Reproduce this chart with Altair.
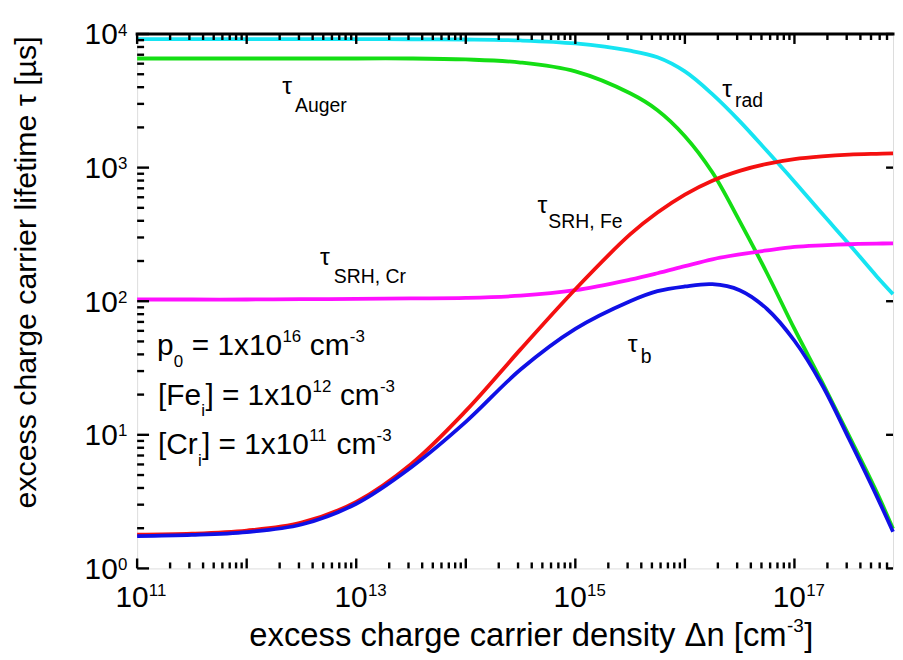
import altair as alt
import pandas as pd

# ---------------- data ----------------
dn = [1e11, 3.16e11, 1e12, 3.16e12, 1e13, 3.16e13, 1e14, 3.16e14, 1e15,
      3.16e15, 5.62e15, 1e16, 1.78e16, 3.16e16, 5.62e16, 1e17, 1.78e17,
      3.16e17, 5.62e17, 7.94e17]
tau_rad = [9150, 9150, 9150, 9150, 9150, 9140, 9100, 8950, 8500, 7500,
           6700, 5250, 3550, 2230, 1330, 785, 455, 267, 154, 113]
tau_auger = [6560, 6560, 6560, 6560, 6560, 6560, 6450, 6120, 5250, 3600,
             2690, 1720, 923, 398, 162, 62, 25.0, 9.77, 3.74, 1.98]
tau_srh_fe = [1.79, 1.82, 1.92, 2.20, 3.15, 6.03, 15.1, 43.6, 123, 316,
              461, 628, 798, 946, 1067, 1157, 1213, 1250, 1268, 1276]
tau_srh_cr = [103, 103, 103, 103.5, 104, 105, 106, 110, 121, 145,
              162, 183, 206, 224, 240, 255, 262, 267, 270, 271]
tau_b = [1.745, 1.78, 1.87, 2.13, 3.05, 5.70, 12.5, 30.8, 62.1, 100,
         119, 129, 134, 121, 87.5, 50.6, 23.8, 9.27, 3.49, 1.88]

X_MIN, X_MAX = 1e11, 7.94e17
Y_MIN, Y_MAX = 1, 1e4
x_major = [1e11, 1e12, 1e13, 1e14, 1e15, 1e16, 1e17]
x_minor = [k * 10.0 ** n for n in range(11, 18) for k in range(2, 10) if k * 10.0 ** n < X_MAX]
y_major = [1, 10, 100, 1000, 10000]
y_minor = [k * 10.0 ** n for n in range(0, 4) for k in range(2, 10)]
x_label_vals = [1e11, 1e13, 1e15, 1e17]
x_label_exp = ["11", "13", "15", "17"]
y_label_vals = [1, 10, 100, 1000, 10000]
y_label_exp = ["0", "1", "2", "3", "4"]

# ---------------- layout ----------------
FONT = "Liberation Sans"
W, H = 761, 538
PAD_L, PAD_T, PAD_R, PAD_B = 130, 24, 2, 90
OX, OY = 8 + PAD_L, 8 + PAD_T   # page position of plot origin

xs = alt.Scale(type="log", domain=[X_MIN, X_MAX], nice=False)
ys = alt.Scale(type="log", domain=[Y_MIN, Y_MAX], nice=False)
ax_x = alt.Axis(domain=True, domainColor="black", domainWidth=3, domainCap="square",
                ticks=False, labels=False, grid=False, title=None)
ax_y = alt.Axis(domain=True, domainColor="black", domainWidth=3, domainCap="square",
                ticks=False, labels=False, grid=False, title=None)

layers = []

# ---- curves ----
series = [
    (tau_rad, "#16E4F2"),
    (tau_auger, "#14DE14"),
    (tau_srh_cr, "#FF10FF"),
    (tau_srh_fe, "#F41010"),
    (tau_b, "#1010E6"),
]
for vals, col in series:
    df = pd.DataFrame({"dn": dn, "tau": vals})
    layers.append(
        alt.Chart(df).mark_line(color=col, strokeWidth=3.8, interpolate="catmull-rom").encode(
            x=alt.X("dn:Q", scale=xs, axis=ax_x),
            y=alt.Y("tau:Q", scale=ys, axis=ax_y),
        )
    )

# ---- inward ticks ----
def x_ticks(vals, length, top):
    y0 = 0 if top else H
    y1 = length if top else H - length
    return alt.Chart(pd.DataFrame({"v": vals})).mark_rule(color="black", strokeWidth=2.4).encode(
        x=alt.X("v:Q", scale=xs, axis=None), y=alt.value(y0), y2=alt.value(y1))

def y_ticks(vals, length, right):
    x0 = W if right else 0
    x1 = W - length if right else length
    return alt.Chart(pd.DataFrame({"v": vals})).mark_rule(color="black", strokeWidth=2.4).encode(
        y=alt.Y("v:Q", scale=ys, axis=None), x=alt.value(x0), x2=alt.value(x1))

layers += [
    x_ticks(x_major, 10, False), x_ticks(x_minor, 6, False),
    x_ticks(x_major, 10, True), x_ticks(x_minor, 6, True),
    y_ticks(y_major, 12, False), y_ticks(y_minor, 7, False),
    y_ticks(y_major, 7, True),
]

# top frame line
layers.append(
    alt.Chart(pd.DataFrame({"a": [0]})).mark_rule(color="black", strokeWidth=3).encode(
        x=alt.value(-1.5), x2=alt.value(W + 1.5), y=alt.value(0))
)

# ---- tick labels 10^n ----
xl = pd.DataFrame({"v": x_label_vals, "b": ["10"] * 4, "e": x_label_exp})
layers.append(alt.Chart(xl).mark_text(align="right", baseline="alphabetic", dx=11.5,
                                      fontSize=30, font=FONT, color="black").encode(
    x=alt.X("v:Q", scale=xs, axis=None), y=alt.value(H + 39), text="b:N"))
layers.append(alt.Chart(xl).mark_text(align="left", baseline="alphabetic", dx=11.8,
                                      fontSize=17, font=FONT, color="black").encode(
    x=alt.X("v:Q", scale=xs, axis=None), y=alt.value(H + 28), text="e:N"))

yl = pd.DataFrame({"v": y_label_vals, "b": ["10"] * 5, "e": y_label_exp})
layers.append(alt.Chart(yl).mark_text(align="right", baseline="alphabetic", dy=10.5,
                                      fontSize=30, font=FONT, color="black").encode(
    y=alt.Y("v:Q", scale=ys, axis=None), x=alt.value(-19.5), text="b:N"))
layers.append(alt.Chart(yl).mark_text(align="left", baseline="alphabetic", dy=1.5,
                                      fontSize=17, font=FONT, color="black").encode(
    y=alt.Y("v:Q", scale=ys, axis=None), x=alt.value(-19.2), text="e:N"))

# ---- rich text pieces (sub/superscripts) ----
EM = {" ": 278, "a": 556, "b": 556, "c": 500, "d": 556, "e": 556, "f": 278, "g": 556,
      "h": 556, "i": 222, "l": 222, "m": 833, "n": 556, "p": 556, "r": 333, "s": 500,
      "t": 278, "u": 556, "x": 500, "y": 500, "A": 667, "C": 722, "F": 611, "H": 722,
      "R": 722, "S": 667, "[": 278, "]": 278, "=": 584, ",": 278, "-": 333, "Δ": 668}

def width(s, fs):
    return sum(EM.get(ch, 556) for ch in s) * fs / 1000.0

rows = []

def run(segments, x, y):
    for txt, fs, dy in segments:
        lead = len(txt) - len(txt.lstrip(" "))
        rows.append(dict(t=txt.strip(), px=x + width(" " * lead, fs) - OX, py=y + dy - OY, fs=fs))
        x += width(txt, fs) + 0.3

N, S = 30, 17
for first, sub, exp, x0, base in [("p", "0", "16", 158, 355),
                                  ("[Fe", "i", "12", 159, 405),
                                  ("[Cr", "i", "11", 159, 455)]:
    rest = " = 1x10" if first == "p" else "] = 1x10"
    run([(first, N, 0), (sub, S, 12), (rest, N, 0), (exp, S, -13), (" cm", N, 0), ("-3", S, -13)], x0, base)

# tau labels
for tx, ty, sub, sx, sy in [(284, 92, "Auger", 297, 110),
                            (727, 95, "rad", 740, 105),
                            (541, 212, "SRH, Fe", 552, 227),
                            (322, 265, "SRH, Cr", 336, 283),
                            (632, 352, "b", 645, 363)]:
    rows.append(dict(t="τ", px=tx - OX, py=ty - OY, fs=25))
    rows.append(dict(t=sub, px=sx - OX, py=sy - OY, fs=19.5))

# x-axis title
run([("excess charge carrier density Δn [cm", 33, 0), ("-3", 19, -14), ("]", 33, 0)], 251, 648)

layers.append(alt.Chart(pd.DataFrame(rows)).mark_text(align="left", baseline="alphabetic",
                                                      font=FONT, color="black").encode(
    x=alt.X("px:Q", scale=None, axis=None),
    y=alt.Y("py:Q", scale=None, axis=None),
    size=alt.Size("fs:Q", scale=None, legend=None),
    text="t:N"))

# y-axis title (rotated)
layers.append(alt.Chart(pd.DataFrame({"a": [0]})).mark_text(
    text="excess charge carrier lifetime τ [µs]", angle=270, align="center", baseline="alphabetic",
    font=FONT, fontSize=30.5, color="black").encode(
    x=alt.value(36 - OX), y=alt.value(272 - OY)))

chart = alt.layer(*layers).properties(
    width=W, height=H,
    autosize=alt.AutoSizeParams(type="none"),
    padding={"left": PAD_L, "top": PAD_T, "right": PAD_R, "bottom": PAD_B},
).configure_view(stroke=None).configure(background="white")

chart.save("out.html", embed_options={"renderer": "svg", "actions": False})
